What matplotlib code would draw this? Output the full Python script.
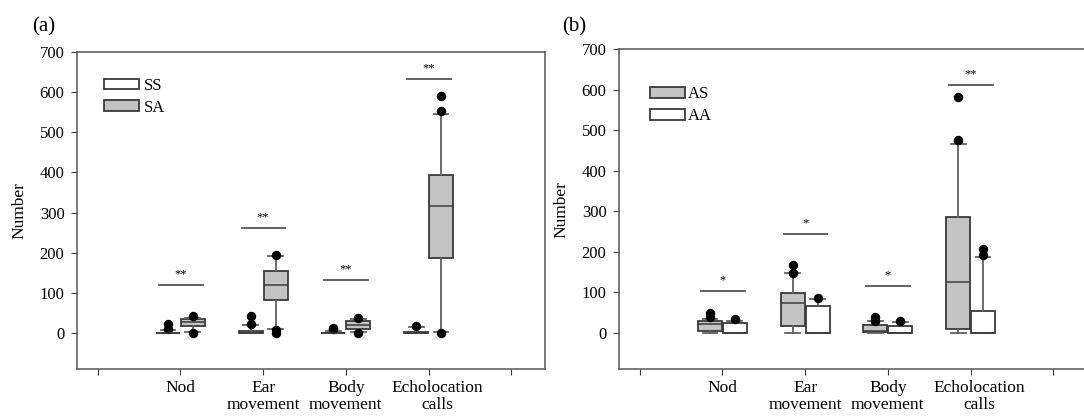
import matplotlib
matplotlib.use('Agg')
import matplotlib.pyplot as plt
from matplotlib.patches import Patch
from matplotlib.transforms import ScaledTranslation

plt.rcParams['font.family'] = ['Liberation Serif', 'DejaVu Serif']

# categories
behaviours = ['Nod', 'Ear\nmovement', 'Body\nmovement', 'Echolocation\ncalls']

# panel (a): SS (white) and SA (grey)
ss_q1 = [0, 0, 0, 0]
ss_med = [0, 1, 0, 0]
ss_q3 = [1, 4, 1, 2]
ss_lo = [0, 0, 0, 0]
ss_hi = [7, 20, 6, 14]
ss_fliers = [[10, 22], [22, 42], [9, 13], [17]]

sa_q1 = [17, 83, 10, 188]
sa_med = [27, 119, 19, 317]
sa_q3 = [35, 155, 29, 394]
sa_lo = [3, 11, 2, 2]
sa_hi = [38, 192, 35, 545]
sa_fliers = [[43, 0], [195, 7, 0], [37, 0], [553, 590, 0]]

# panel (b): AS (grey) and AA (white)
as_q1 = [5, 17, 1, 9]
as_med = [22, 74, 5, 124]
as_q3 = [30, 97, 20, 285]
as_lo = [0, 0, 0, 0]
as_hi = [35, 148, 30, 465]
as_fliers = [[40, 48], [148, 167], [30, 38], [476, 583]]

aa_q1 = [0, 0, 0, 0]
aa_med = [0, 0, 0, 0]
aa_q3 = [25, 66, 16, 54]
aa_lo = [0, 0, 0, 0]
aa_hi = [28, 83, 27, 188]
aa_fliers = [[34], [85], [30], [193, 207]]

# significance bars
sig_a_y = [119, 261, 132, 632]
sig_a_txt = ['**', '**', '**', '**']
sig_b_y = [103, 244, 115, 611]
sig_b_txt = ['*', '*', '*', '**']

GREY = '#c3c3c3'
EDGE = '#3a3a3a'
WHISK = '#606060'


def stats(q1, med, q3, lo, hi, fl):
    return [dict(q1=a, med=b, q3=c, whislo=d, whishi=e, fliers=f)
            for a, b, c, d, e, f in zip(q1, med, q3, lo, hi, fl)]


def draw(ax, left_stats, left_col, right_stats, right_col):
    pos = range(1, len(behaviours) + 1)
    for st, col, off in [(left_stats, left_col, -0.15), (right_stats, right_col, 0.15)]:
        ax.bxp(st, positions=[p + off for p in pos], widths=0.29, capwidths=0.18,
               patch_artist=True, showfliers=True,
               boxprops=dict(facecolor=col, edgecolor=EDGE, linewidth=1.3),
               medianprops=dict(color=EDGE, linewidth=1.1),
               whiskerprops=dict(color=WHISK, linewidth=1.3),
               capprops=dict(color=WHISK, linewidth=1.3),
               flierprops=dict(marker='o', markerfacecolor='black',
                               markeredgecolor='black', markersize=5.8))
    ax.set_xlim(-0.25, 5.41)
    ax.set_ylim(-90, 700)
    ax.set_yticks(range(0, 701, 100))
    ax.set_xticks(range(0, 6))
    ax.set_xticklabels([''] + behaviours + [''], linespacing=1.05)
    ax.set_ylabel('Number', fontsize=12.5, labelpad=9)
    ax.tick_params(axis='y', labelsize=12, direction='out', length=4,
                   color=EDGE, pad=5)
    ax.tick_params(axis='x', labelsize=12.5, direction='out', length=4,
                   color=EDGE, pad=4)
    # last category label sits a little right of its tick
    lab = ax.get_xticklabels()[4]
    lab.set_transform(lab.get_transform() + ScaledTranslation(0.09, 0, fig.dpi_scale_trans))
    for s in ax.spines.values():
        s.set_color('#555555')
        s.set_linewidth(1.1)


def sig(ax, ys, txts):
    for i, (y, t) in enumerate(zip(ys, txts)):
        x = i + 1
        ax.plot([x - 0.26, x + 0.27], [y, y], color='#555555', lw=1.3)
        ax.text(x, y + 12, t, ha='center', va='bottom', fontsize=9)


fig = plt.figure(figsize=(10.84, 4.2), dpi=100)
ax1 = fig.add_axes([0.071, 0.121, 0.432, 0.755])
ax2 = fig.add_axes([0.571, 0.121, 0.432, 0.762])

draw(ax1, stats(ss_q1, ss_med, ss_q3, ss_lo, ss_hi, ss_fliers), 'white',
     stats(sa_q1, sa_med, sa_q3, sa_lo, sa_hi, sa_fliers), GREY)
sig(ax1, sig_a_y, sig_a_txt)
ax1.legend(handles=[Patch(facecolor='white', edgecolor=EDGE, lw=1.3, label='SS'),
                    Patch(facecolor=GREY, edgecolor=EDGE, lw=1.3, label='SA')],
           loc='upper left', bbox_to_anchor=(0.043, 0.94), frameon=False,
           fontsize=12, handlelength=2.1, handleheight=0.62, handletextpad=0.3,
           labelspacing=0.35, borderaxespad=0)

draw(ax2, stats(as_q1, as_med, as_q3, as_lo, as_hi, as_fliers), GREY,
     stats(aa_q1, aa_med, aa_q3, aa_lo, aa_hi, aa_fliers), 'white')
sig(ax2, sig_b_y, sig_b_txt)
ax2.legend(handles=[Patch(facecolor=GREY, edgecolor=EDGE, lw=1.3, label='AS'),
                    Patch(facecolor='white', edgecolor=EDGE, lw=1.3, label='AA')],
           loc='upper left', bbox_to_anchor=(0.052, 0.905), frameon=False,
           fontsize=12, handlelength=2.1, handleheight=0.62, handletextpad=0.15,
           labelspacing=0.35, borderaxespad=0)

fig.text(0.03, 0.925, '(a)', fontsize=15)
fig.text(0.519, 0.925, '(b)', fontsize=15)

fig.savefig('out.png', dpi=100)
